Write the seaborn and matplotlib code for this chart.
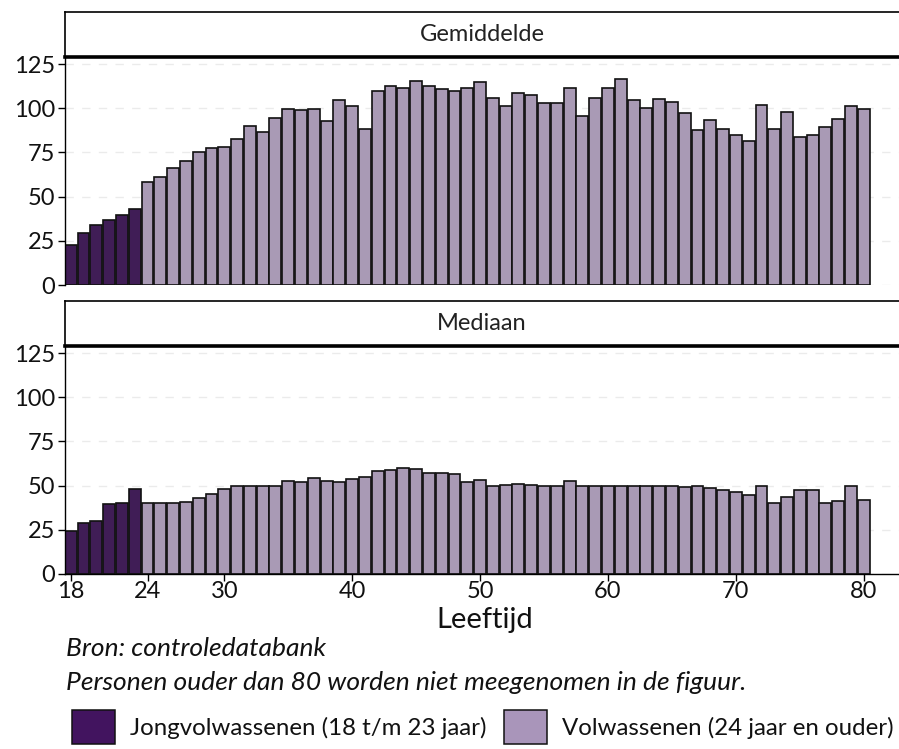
import numpy as np
import pandas as pd
import matplotlib
matplotlib.use("Agg")
import matplotlib.pyplot as plt
from matplotlib.patches import Patch
import seaborn as sns

ages = list(range(18, 81))

gemiddelde = [22.6, 29.3, 34.2, 36.7, 39.8, 43.0,
              58.1, 61.3, 66.2, 69.9, 75.4, 77.6, 78.2, 82.7, 89.7, 86.3,
              94.5, 99.8, 99.2, 99.4, 92.7, 104.5, 101.5, 88.2, 109.6, 112.8,
              111.7, 115.6, 112.6, 110.7, 109.8, 111.7, 115.0, 106.0, 101.3, 108.6,
              107.3, 103.2, 102.8, 111.7, 95.7, 105.6, 111.5, 116.7, 104.5, 100.0,
              105.1, 103.4, 97.2, 87.8, 93.6, 88.2, 84.6, 81.6, 102.1, 88.5,
              97.7, 84.0, 84.6, 89.5, 94.0, 101.5, 99.8]

mediaan = [24.4, 28.8, 30.1, 39.5, 40.2, 48.1,
           40.0, 40.0, 40.0, 40.6, 43.0, 45.5, 48.1, 49.8, 50.0, 50.0,
           50.0, 52.4, 52.3, 54.3, 52.8, 52.3, 53.8, 55.1, 58.1, 58.8,
           60.0, 59.4, 57.3, 57.0, 56.8, 51.9, 53.2, 50.0, 50.4, 50.8,
           50.2, 49.8, 50.0, 52.6, 50.0, 50.0, 50.0, 50.0, 50.0, 50.0,
           50.0, 50.0, 49.2, 49.8, 48.9, 47.4, 46.6, 44.7, 50.0, 40.0,
           43.4, 47.6, 47.7, 40.0, 41.5, 49.6, 42.1]

groups = ["Jongvolwassenen (18 t/m 23 jaar)", "Volwassenen (24 jaar en ouder)"]
colors = ["#42145f", "#a995ba"]
panels = ["Gemiddelde", "Mediaan"]
yticks = [0, 25, 50, 75, 100, 125]
xticks = [18, 24, 30, 40, 50, 60, 70, 80]

df = pd.DataFrame({"leeftijd": ages * 2,
                   "waarde": gemiddelde + mediaan,
                   "stat": [panels[0]] * len(ages) + [panels[1]] * len(ages)})
df["groep"] = np.where(df["leeftijd"] <= 23, groups[0], groups[1])

sns.set_style("white")
plt.rcParams["font.family"] = ["Lato", "DejaVu Sans"]

W, H = 899, 749
fig = plt.figure(figsize=(W / 100, H / 100), dpi=100)
left = 65 / W
width = (906 - 65) / W

# (strip top, strip bottom/axes top, axes bottom) in pixels
layout = [(12, 57, 285), (301, 346, 574)]

for i, (stat, (s_top, a_top, a_bot)) in enumerate(zip(panels, layout)):
    ax = fig.add_axes([left, 1 - a_bot / H, width, (a_bot - a_top) / H])
    sub = df[df["stat"] == stat]
    sns.barplot(data=sub, x="leeftijd", y="waarde", hue="groep",
                hue_order=groups, palette=colors, native_scale=True,
                width=0.93, edgecolor="#111111", linewidth=1.2,
                legend=False, ax=ax)
    ax.set_xlim(17.55, 83.3)
    ax.set_ylim(0, 129)
    ax.set_yticks(yticks)
    ax.yaxis.grid(True, color="#ebebeb", linestyle=(0, (6, 6)), linewidth=1)
    ax.set_axisbelow(True)
    for s in ["top", "right"]:
        ax.spines[s].set_visible(False)
    ax.spines["left"].set_color("black")
    ax.spines["left"].set_linewidth(1)
    ax.tick_params(axis="y", which="major", length=5, width=1, color="black",
                   labelsize=17, labelcolor="#111111", left=True, pad=2)
    ax.set_ylabel("")
    if i == 0:
        ax.spines["bottom"].set_visible(False)
        ax.set_xticks([])
        ax.set_xlabel("")
    else:
        ax.spines["bottom"].set_color("black")
        ax.spines["bottom"].set_linewidth(1)
        ax.set_xticks(xticks)
        ax.tick_params(axis="x", length=5, width=1, color="black", bottom=True,
                       labelsize=17, labelcolor="#111111", pad=0)
        ax.set_xlabel("")

    # facet strip
    sax = fig.add_axes([left, 1 - a_top / H, width, (a_top - s_top) / H])
    sax.set_xticks([])
    sax.set_yticks([])
    sax.set_facecolor("white")
    sax.spines["right"].set_visible(False)
    for s in ["top", "left"]:
        sax.spines[s].set_color("black")
        sax.spines[s].set_linewidth(1.2)
    sax.spines["bottom"].set_color("black")
    sax.spines["bottom"].set_linewidth(2.6)
    sax.text(0.5 - 0.004, 0.5, stat, transform=sax.transAxes, ha="center",
             va="center", fontsize=17, color="#222222")

fig.text(485 / W, 1 - 620 / H, "Leeftijd", ha="center", va="center",
         fontsize=21, color="#111111")
fig.text(66 / W, 1 - 649 / H, "Bron: controledatabank", ha="left",
         va="center", fontsize=19, style="italic", color="#111111")
fig.text(66 / W, 1 - 682 / H,
         "Personen ouder dan 80 worden niet meegenomen in de figuur.",
         ha="left", va="center", fontsize=19, style="italic", color="#111111")

handles = [Patch(facecolor=c, edgecolor="#111111", linewidth=1.1) for c in colors]
fig.legend(handles, groups, loc="upper left",
           bbox_to_anchor=(72 / W, 1 - 710 / H), borderaxespad=0,
           borderpad=0, ncol=2, frameon=False, fontsize=17.3,
           handlelength=1.79, handleheight=1.79, handletextpad=0.62,
           columnspacing=0.75, labelcolor="#111111")

fig.savefig("out.png", dpi=100)
